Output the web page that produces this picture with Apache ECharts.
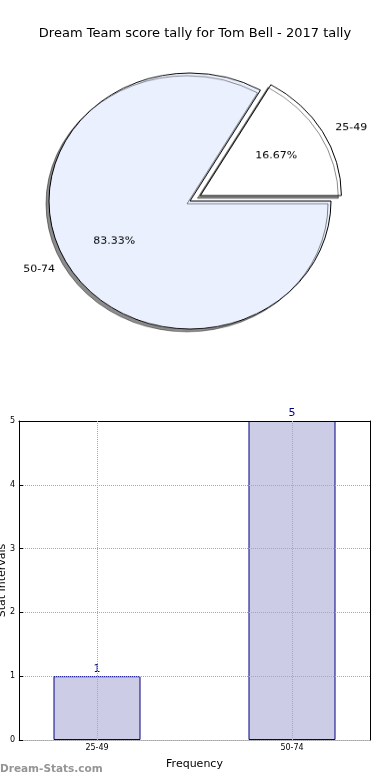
<!DOCTYPE html>
<html><head><meta charset="utf-8">
<script src="https://cdn.jsdelivr.net/npm/echarts@6/dist/echarts.min.js"></script>
<style>
html,body{margin:0;padding:0;background:#fff;}
#main{position:absolute;left:0;top:0;width:390px;height:780px;}
#pie{position:absolute;left:0;top:0;width:390px;height:400px;transform:scaleY(0.908);transform-origin:190px 201px;}
</style></head><body>
<div id="main"></div><div id="pie"></div>
<script>
const chartTitle = 'Dream Team score tally for Tom Bell - 2017 tally';
const pieCategories = ['25-49', '50-74'];
const pieValues = [1, 5];
const pieColors = ['#ffffff', '#eaf0fe'];
const barCategories = ['25-49', '50-74'];
const barPositions = [0, 1];
const barValues = [1, 5];
const yTickValues = [0, 1, 2, 3, 4, 5];
const FONT = 'DejaVu Sans';

const main = echarts.init(document.getElementById('main'), null, {renderer: 'canvas'});
main.setOption({
  animation: false,
  textStyle: {fontFamily: FONT},
  title: {text: chartTitle, left: 'center', top: 22, textStyle: {fontSize: 13, fontWeight: 'normal', color: '#000', fontFamily: FONT}},
  grid: {left: 19, right: 20, top: 421, bottom: 40, containLabel: false, outerBoundsMode: 'none'},
  xAxis: [
    {type: 'value', min: -0.4, max: 1.4, position: 'bottom',
     axisLine: {show: true, onZero: false, lineStyle: {color: '#999', type: 'dotted', width: 1}},
     axisTick: {show: true, customValues: barPositions, inside: true, length: 4, lineStyle: {color: '#999'}},
     axisLabel: {customValues: barPositions, formatter: v => barCategories[Math.round(v)], fontSize: 8, color: '#000', margin: 4},
     splitLine: {show: false},
     name: 'Frequency', nameLocation: 'middle', nameGap: 19, nameMoveOverlap: false, nameTextStyle: {fontSize: 11, color: '#000'}},
    {type: 'value', min: -0.4, max: 1.4, position: 'top', z: 4,
     axisLine: {show: true, onZero: false, lineStyle: {color: '#000', width: 1}},
     axisTick: {show: false}, axisLabel: {show: false}, splitLine: {show: false}}
  ],
  yAxis: [
    {type: 'value', min: 0, max: 5, interval: 1, z: 3, position: 'left',
     axisLine: {show: true, onZero: false, lineStyle: {color: '#000', width: 1}},
     axisTick: {show: true, inside: true, length: 4, lineStyle: {color: '#000'}},
     axisLabel: {fontSize: 8, color: '#000', margin: 4, formatter: v => yTickValues.includes(v) ? String(v) : ''},
     splitLine: {show: true, lineStyle: {color: '#aaa', type: 'dotted', width: 1}},
     name: 'Stat Intervals', nameLocation: 'middle', nameGap: 11, nameMoveOverlap: false, nameTextStyle: {fontSize: 11, color: '#000'}},
    {type: 'value', min: 0, max: 5, interval: 1, position: 'right', z: 4,
     axisLine: {show: true, onZero: false, lineStyle: {color: '#000', width: 1}},
     axisTick: {show: false}, axisLabel: {show: false}, splitLine: {show: false}}
  ],
  series: [{
    type: 'bar', xAxisIndex: 0, yAxisIndex: 0,
    data: barPositions.map((p, i) => [p, barValues[i]]),
    barWidth: 87,
    itemStyle: {color: '#ccccE6', borderColor: '#000080', borderWidth: 1},
    label: {show: true, position: 'top', color: '#000080', fontSize: 11, distance: 2},
    markLine: {silent: true, symbol: ['none', 'none'], label: {show: false},
      lineStyle: {color: '#aaa', type: 'dotted', width: 1},
      data: barPositions.map(p => ({xAxis: p}))}
  }],
  graphic: [{type: 'text', left: 0, top: 764,
    style: {text: 'Dream-Stats.com', font: 'bold 10.5px "DejaVu Sans"', fill: '#959595'}}]
});

const pie = echarts.init(document.getElementById('pie'), null, {renderer: 'canvas'});
const pieData = (extra) => pieCategories.map((c, i) => Object.assign({name: c, value: pieValues[i], selected: i === 0}, extra(i)));
pie.setOption({
  animation: false,
  textStyle: {fontFamily: FONT},
  series: [
    {type: 'pie', center: [190, 201], radius: 141, startAngle: 60, clockwise: true,
     avoidLabelOverlap: false, selectedMode: 'single', selectedOffset: 12,
     data: pieData(i => ({itemStyle: {color: pieColors[i]}})),
     itemStyle: {borderColor: '#000', borderWidth: 1, shadowColor: 'rgba(0,0,0,0.45)', shadowBlur: 0, shadowOffsetX: -3, shadowOffsetY: 3},
     label: {show: true, position: 'outside', formatter: '{b}', fontSize: 11, color: '#000', fontFamily: FONT},
     labelLine: {show: false, length: 9, length2: 0},
     emphasis: {disabled: true}},
    {type: 'pie', center: [190, 201], radius: 169.2, startAngle: 60, clockwise: true, silent: true,
     avoidLabelOverlap: false, selectedMode: 'single', selectedOffset: 12,
     data: pieData(i => ({})),
     itemStyle: {color: 'rgba(0,0,0,0)', borderWidth: 0},
     label: {show: true, position: 'inside', formatter: '{d}%', fontSize: 11, color: '#000', fontFamily: FONT},
     labelLine: {show: false},
     emphasis: {disabled: true}}
  ]
});
</script></body></html>
